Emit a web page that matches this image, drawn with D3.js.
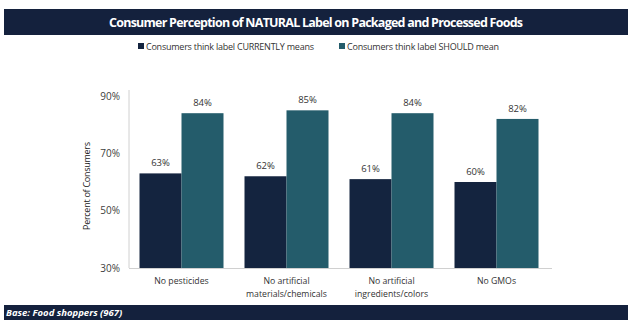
<!DOCTYPE html>
<html>
<head>
<meta charset="utf-8">
<script src="https://cdn.jsdelivr.net/npm/d3@7"></script>
<style>
  body { margin: 0; background: #fff; }
  svg { display: block; font-family: "Open Sans", "Liberation Sans", sans-serif; }
</style>
</head>
<body>
<script>
// chart data
var categories = ["No pesticides", "No artificial\nmaterials/chemicals", "No artificial\ningredients/colors", "No GMOs"];
var seriesNames = ["Consumers think label CURRENTLY means", "Consumers think label SHOULD mean"];
var currentlyMeans = [63, 62, 61, 60];
var shouldMean = [84, 85, 84, 82];
var yTicks = [30, 50, 70, 90];

var width = 632,
    height = 322;

var colors = ["#14243f", "#245c6b"];

var svg = d3.select("body")
    .append("svg")
    .attr("width", width)
    .attr("height", height);

// title banner
svg.append("rect")
    .attr("x", 4).attr("y", 9)
    .attr("width", 624).attr("height", 26)
    .attr("fill", "#14213d");
svg.append("text")
    .attr("x", 316).attr("y", 27)
    .attr("text-anchor", "middle")
    .attr("fill", "#fff")
    .attr("font-weight", "bold")
    .attr("font-size", 12.5)
    .attr("textLength", 414)
    .text("Consumer Perception of NATURAL Label on Packaged and Processed Foods");

// legend
var legendX = [138, 339],
    legendLen = [168, 152];
var legend = svg.selectAll(".legend")
    .data(seriesNames)
    .enter()
    .append("g")
    .attr("class", "legend")
    .attr("transform", function(d, i){ return "translate(" + legendX[i] + ",47)"; });
legend.append("rect")
    .attr("x", 0).attr("y", -4)
    .attr("width", 6).attr("height", 6)
    .attr("fill", function(d, i){ return colors[i]; });
legend.append("text")
    .attr("x", 8).attr("y", 2.5)
    .attr("font-size", 9)
    .attr("fill", "#333")
    .attr("textLength", function(d, i){ return legendLen[i]; })
    .text(function(d){ return d; });

// scales
var y = d3.scaleLinear()
    .domain([30, 90])
    .range([268, 96]);

var x0 = d3.scaleBand()
    .domain(categories)
    .range([129, 549])
    .paddingInner(0.2)
    .paddingOuter(0.1);

var x1 = d3.scaleBand()
    .domain([0, 1])
    .range([0, x0.bandwidth()]);

// y axis
var yAxis = svg.append("g")
    .attr("transform", "translate(129,0)")
    .call(d3.axisLeft(y).tickValues(yTicks).tickSize(0).tickPadding(9)
        .tickFormat(function(d){ return d + "%"; }));
yAxis.select(".domain").attr("stroke", "#d0d0d0").attr("d", "M0,90V268");
yAxis.selectAll("text")
    .attr("font-size", 10)
    .attr("fill", "#404040")
    .attr("font-family", "Open Sans, sans-serif");

svg.append("text")
    .attr("transform", "translate(90,186) rotate(-90)")
    .attr("text-anchor", "middle")
    .attr("font-size", 9)
    .attr("fill", "#222")
    .attr("textLength", 88)
    .text("Percent of Consumers");

// bars
var groups = svg.selectAll(".group")
    .data(categories)
    .enter()
    .append("g")
    .attr("class", "group")
    .attr("transform", function(d){ return "translate(" + x0(d) + ",0)"; });

var values = [currentlyMeans, shouldMean];

groups.selectAll("rect")
    .data(function(d, i){ return [0, 1].map(function(s){ return {s: s, v: values[s][i]}; }); })
    .enter()
    .append("rect")
    .attr("x", function(d){ return x1(d.s); })
    .attr("y", function(d){ return y(d.v); })
    .attr("width", x1.bandwidth())
    .attr("height", function(d){ return y(30) - y(d.v); })
    .attr("fill", function(d){ return colors[d.s]; });

groups.selectAll(".val")
    .data(function(d, i){ return [0, 1].map(function(s){ return {s: s, v: values[s][i]}; }); })
    .enter()
    .append("text")
    .attr("class", "val")
    .attr("x", function(d){ return x1(d.s) + x1.bandwidth() / 2; })
    .attr("y", function(d){ return y(d.v) - 7; })
    .attr("text-anchor", "middle")
    .attr("font-size", 9.5)
    .attr("fill", "#333")
    .text(function(d){ return d.v + "%"; });

// baseline
svg.append("line")
    .attr("x1", 129).attr("x2", 552)
    .attr("y1", 268.5).attr("y2", 268.5)
    .attr("stroke", "#d0d0d0");

// category labels
groups.append("text")
    .attr("x", x0.bandwidth() / 2)
    .attr("y", 284)
    .attr("text-anchor", "middle")
    .attr("font-size", 8.7)
    .attr("fill", "#333")
    .selectAll("tspan")
    .data(function(d){ return d.split("\n"); })
    .enter()
    .append("tspan")
    .attr("x", x0.bandwidth() / 2)
    .attr("dy", function(d, i){ return i ? 13 : 0; })
    .text(function(d){ return d; });

// footer
svg.append("rect")
    .attr("x", 4).attr("y", 305)
    .attr("width", 624).attr("height", 15)
    .attr("fill", "#14213d");
svg.append("text")
    .attr("x", 6).attr("y", 316)
    .attr("fill", "#fff")
    .attr("font-weight", "bold")
    .attr("font-style", "italic")
    .attr("font-size", 9.5)
    .text("Base: Food shoppers (967)");
</script>
</body>
</html>
